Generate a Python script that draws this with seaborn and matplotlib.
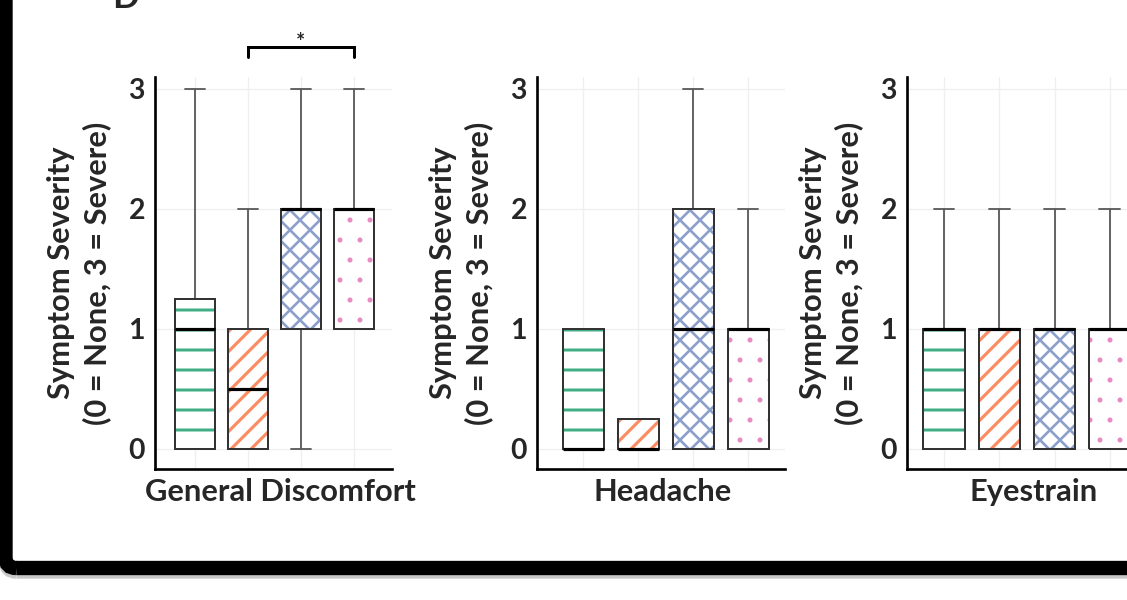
import matplotlib
matplotlib.use('Agg')
import matplotlib.pyplot as plt
import matplotlib.patches as mpatches
import seaborn as sns
import pandas as pd

# symptom panels and the four (unlabelled) conditions
symptoms = ['General Discomfort', 'Headache', 'Eyestrain']
conditions = ['Condition 1', 'Condition 2', 'Condition 3', 'Condition 4']

# severity ratings (0 = None ... 3 = Severe), one list per condition
discomfort = [
    [0, 0, 0, 1, 1, 1, 2, 3],
    [0, 0, 0, 0, 1, 1, 1, 2],
    [0, 1, 1, 2, 2, 2, 2, 3],
    [1, 1, 1, 2, 2, 2, 2, 3],
]
headache = [
    [0, 0, 0, 0, 0, 1, 1, 1],
    [0, 0, 0, 0, 0, 0, 1, 1],
    [0, 0, 0, 1, 1, 2, 2, 3],
    [0, 0, 0, 1, 1, 1, 1, 2],
]
eyestrain = [
    [0, 0, 0, 1, 1, 1, 1, 2],
    [0, 0, 0, 1, 1, 1, 1, 2],
    [0, 0, 0, 1, 1, 1, 1, 2],
    [0, 0, 0, 1, 1, 1, 1, 2],
]
ratings = [discomfort, headache, eyestrain]
yticks = [0, 1, 2, 3]
ylabel = 'Symptom Severity\n(0 = None, 3 = Severe)'

# styles
colors = ['#3fae84', '#fc8d62', '#8da0cb', '#e78ac3']
hatches = ['-', '//', 'xx', '.']
hatch_lw = [1.8, 1.9, 1.6, 0.6]

sns.set_theme(style='white')
plt.rcParams['font.family'] = ['Lato', 'DejaVu Sans']
plt.rcParams['hatch.linewidth'] = 1.8

W, H, DPI = 1127, 600, 120
fig = plt.figure(figsize=(W / DPI, H / DPI), dpi=DPI)
fig.patch.set_facecolor('white')

# (left px, width px, xlim, xlabel offset px) for each panel
panels = [(155, 237, (-0.75, 3.72), 7), (537, 248, (-0.84, 3.67), 2), (907, 247, (-0.67, 3.8), 3)]
bottom_px, top_px = 469, 77
ax_h = bottom_px - top_px

for i, name in enumerate(symptoms):
    left, w, xlim, xoff = panels[i]
    ax = fig.add_axes([left / W, 1 - bottom_px / H, w / W, ax_h / H])
    df = pd.DataFrame({
        'condition': [c for c, vals in zip(conditions, ratings[i]) for _ in vals],
        'severity': [v for vals in ratings[i] for v in vals],
    })
    sns.boxplot(data=df, x='condition', y='severity', hue='condition',
                order=conditions, hue_order=conditions, palette=colors,
                width=0.75, showfliers=False, linecolor='#5a5a5a', linewidth=1.1,
                medianprops=dict(color='black', linewidth=1.9, zorder=6),
                legend=False, ax=ax)

    # hatched boxes with a dark outline on top
    for p, col, h, hl in zip(list(ax.patches), colors, hatches, hatch_lw):
        p.set_facecolor('white')
        p.set_edgecolor(col)
        p.set_hatch(h)
        p.set_linewidth(0)
        if hasattr(p, 'set_hatch_linewidth'):
            p.set_hatch_linewidth(hl)
        ax.add_patch(mpatches.PathPatch(p.get_path(), transform=p.get_transform(),
                                        fill=False, edgecolor='#333333', lw=1.2, zorder=5))

    ax.set_xlim(*xlim)
    ax.set_ylim(-0.17, 3.1)
    ax.set_yticks(yticks)
    ax.set_yticklabels([str(t) for t in yticks], fontweight='bold', fontsize=17)
    ax.tick_params(axis='y', length=0, pad=6)
    ax.tick_params(axis='x', length=0, labelbottom=False)
    ax.grid(True, color='#efefef', lw=0.8)
    ax.set_axisbelow(True)
    sns.despine(ax=ax)
    for s in ['left', 'bottom']:
        ax.spines[s].set_linewidth(1.6)
        ax.spines[s].set_color('black')

    ax.set_ylabel(ylabel, fontweight='bold', fontsize=18.5, va='center', linespacing=1.3)
    ax.yaxis.set_label_coords(-76 / w, 0.5)
    ax.set_xlabel(name, fontweight='bold', fontsize=18.5, va='center')
    ax.xaxis.set_label_coords(0.5 + xoff / w, -23 / ax_h)

    if i == 0:
        ax.plot([1, 1, 3, 3], [3.27, 3.35, 3.35, 3.27], color='black', lw=1.8,
                clip_on=False, solid_joinstyle='miter')
        ax.text(2, 3.39, '*', ha='center', va='center', fontsize=13, fontweight='bold')

# black frame of the screenshot (left and bottom edges visible)
inch = fig.dpi_scale_trans
fx, fy = 5.5 / DPI, 32 / DPI
shadow = mpatches.FancyBboxPatch((fx, fy - 4 / DPI), 30, 30,
                                 boxstyle='round,pad=0,rounding_size=0.09',
                                 fill=False, edgecolor='#c8c8c8', lw=8, transform=inch)
frame = mpatches.FancyBboxPatch((fx, fy), 30, 30,
                                boxstyle='round,pad=0,rounding_size=0.09',
                                fill=False, edgecolor='black', lw=8.6, transform=inch)
fig.patches.extend([shadow, frame])

# bottom of a cut-off panel letter at the top edge
fig.text(112 / W, 1 - 8 / H, 'D', fontsize=21, fontweight='bold', va='baseline', ha='left')

fig.savefig('out.png', dpi=DPI)
